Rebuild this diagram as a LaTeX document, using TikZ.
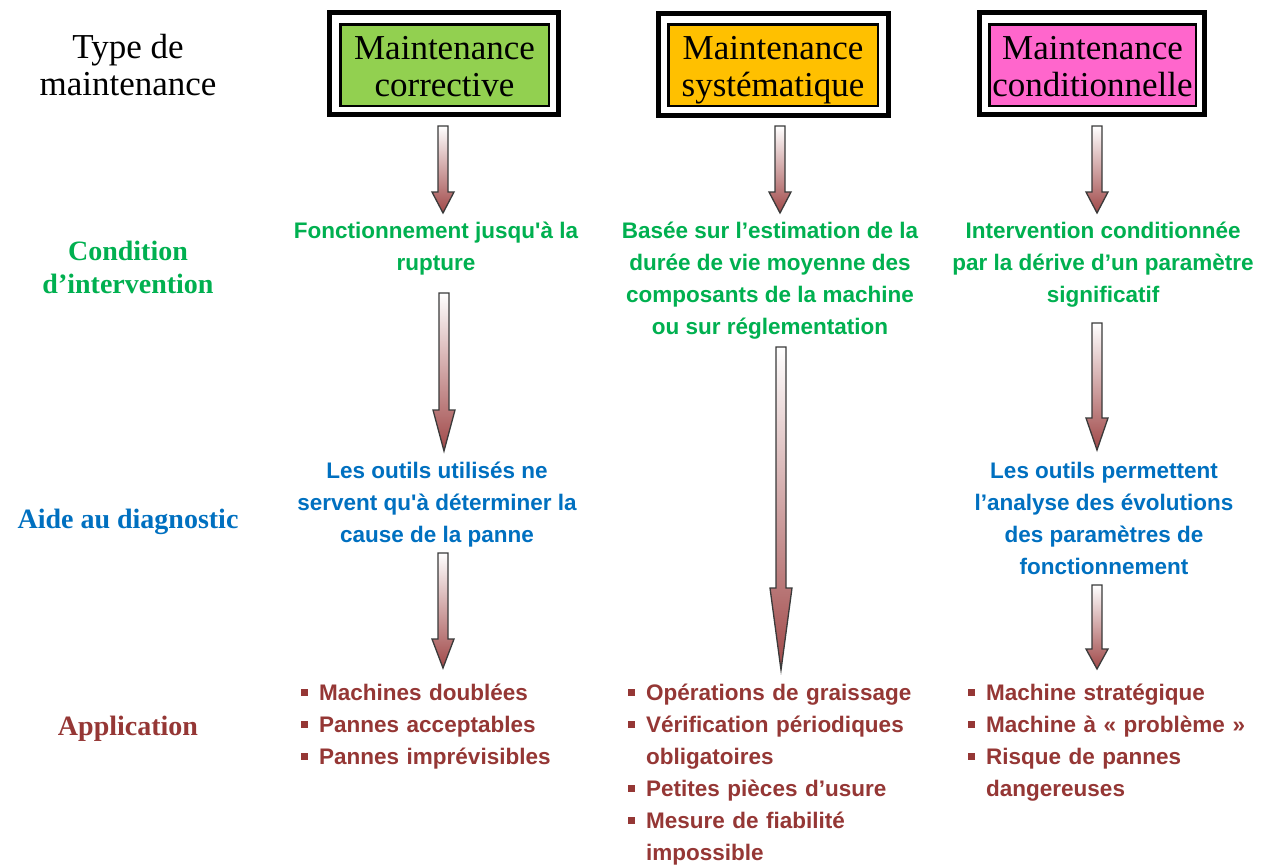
\documentclass[tikz,border=0pt]{standalone}
\usepackage{fontspec}
\setmainfont{Liberation Serif}
\newfontfamily\arialf{Liberation Sans}
\definecolor{cgreen}{HTML}{00B050}
\definecolor{cblue}{HTML}{0070C0}
\definecolor{cred}{HTML}{953735}
\definecolor{boxgreen}{HTML}{92D050}
\definecolor{boxorange}{HTML}{FFC000}
\definecolor{boxpink}{HTML}{FF66CC}
\definecolor{arrowred}{HTML}{A04848}
\definecolor{arrowline}{HTML}{3A3A3A}
\tikzset{
  frameout/.style={draw=black, line width=5pt, inner sep=0pt, minimum height=102pt, fill=white},
  framein/.style={draw=black, line width=2.5pt, inner sep=0pt, minimum height=81.5pt},
  titletext/.style={anchor=base, align=center, inner sep=0pt, font=\fontsize{35}{37}\selectfont},
  rowlabel/.style={anchor=base, align=center, inner sep=0pt, font=\bfseries\fontsize{28}{33}\selectfont},
  coltext/.style={anchor=base, align=center, inner sep=0pt, font={\arialf\bfseries\fontsize{22.5}{32}\selectfont}},
  applist/.style={anchor=base west, align=left, inner sep=0pt, text width=320pt, text=cred, font={\arialf\bfseries\fontsize{22.5}{32}\selectfont}},
  arrowstyle/.style={top color=white, bottom color=arrowred, draw=arrowline, line width=1.3pt, line join=miter}
}
\newcommand\bul{\hangindent=18pt\hangafter=1\makebox[18pt][l]{\raisebox{4.5pt}{\rule{7pt}{7pt}}}}
% name, cx, top, headstart, tip
\newcommand\blockarrow[5]{%
  \coordinate (#1-top) at (#2,#3);
  \coordinate (#1-tip) at (#2,#5);
  \shadedraw[arrowstyle] (#2-5,#3) -- (#2+5,#3) -- (#2+5,#4) -- (#2+11,#4) -- (#2,#5) -- (#2-11,#4) -- (#2-5,#4) -- cycle;
}
\begin{document}
\begin{tikzpicture}[x=1pt,y=-1pt]
\useasboundingbox (0,0) rectangle (1266,865);
\fill[white] (0,0) rectangle (1266,865);

% title boxes
\node[frameout, minimum width=229pt] (f1) at (444,63.5) {};
\node[framein, fill=boxgreen, minimum width=208.5pt] (b1) at (444.5,65) {};
\node[titletext] (t1) at (444.5,96) {Maintenance\\corrective};

\node[frameout, minimum width=230pt] (f2) at (773.5,64) {};
\node[framein, fill=boxorange, minimum width=209.5pt] (b2) at (773,65) {};
\node[titletext] (t2) at (773,96) {Maintenance\\systématique};

\node[frameout, minimum width=225pt] (f3) at (1092,63.5) {};
\node[framein, fill=boxpink, minimum width=206.5pt] (b3) at (1092.5,65) {};
\node[titletext] (t3) at (1092.5,96) {Maintenance\\conditionnelle};

% row labels
\node[titletext] (l1) at (128,95) {Type de\\maintenance};
\node[rowlabel, text=cgreen] (l2) at (128,293) {Condition\\d’intervention};
\node[rowlabel, text=cblue] (l3) at (128,528) {Aide au diagnostic};
\node[rowlabel, text=cred] (l4) at (128,735) {Application};

% column 1
\node[coltext, text=cgreen] (g1) at (436,270) {Fonctionnement jusqu'à la\\rupture};
\node[coltext, text=cblue] (d1) at (437,542) {Les outils utilisés ne\\servent qu'à déterminer la\\cause de la panne};
\node[applist] (a1) at (301,700) {\bul Machines doublées\par\bul Pannes acceptables\par\bul Pannes imprévisibles\par};

% column 2
\node[coltext, text=cgreen] (g2) at (770,334) {Basée sur l’estimation de la\\durée de vie moyenne des\\composants de la machine\\ou sur réglementation};
\node[applist] (a2) at (628,700) {\bul Opérations de graissage\par\bul Vérification périodiques\newline obligatoires\par\bul Petites pièces d’usure\par\bul Mesure de fiabilité\newline impossible\par};

% column 3
\node[coltext, text=cgreen] (g3) at (1103,302) {Intervention conditionnée\\par la dérive d’un paramètre\\significatif};
\node[coltext, text=cblue] (d3) at (1104,574) {Les outils permettent\\l’analyse des évolutions\\des paramètres de\\fonctionnement};
\node[applist] (a3) at (968,700) {\bul Machine stratégique\par\bul Machine à «~problème~»\par\bul Risque de pannes\newline dangereuses\par};

% arrows
\blockarrow{A1}{443}{126}{192}{213}
\blockarrow{A2}{444}{293}{410}{451}
\blockarrow{A3}{443}{553}{639}{668}
\blockarrow{B1}{780}{126}{192}{213}
\blockarrow{B2}{781}{347}{588}{670}
\blockarrow{C1}{1097}{126}{192}{213}
\blockarrow{C2}{1097}{323}{418}{450}
\blockarrow{C3}{1097}{585}{649}{669}
\end{tikzpicture}
\end{document}
